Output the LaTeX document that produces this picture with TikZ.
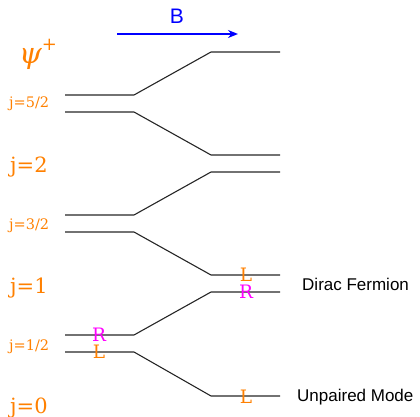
\documentclass[tikz,border=0pt]{standalone}
\usepackage{fontspec}
\setmainfont{DejaVu Serif}
\newfontfamily\lsans{Liberation Sans}
\usetikzlibrary{arrows.meta}
\definecolor{jorange}{RGB}{255,128,0}
\definecolor{jmag}{RGB}{255,0,255}
\tikzset{
  level/.style={line width=1.1pt, draw=black!85, line join=miter},
  jsmall/.style={text=jorange, anchor=base west, inner sep=0pt, font=\fontsize{14.5}{16}\selectfont},
  jbig/.style={text=jorange, anchor=base west, inner sep=0pt, font=\fontsize{21}{24}\selectfont},
  chir/.style={inner sep=0pt, font=\fontsize{18.5}{20}\selectfont},
  sidelab/.style={anchor=base west, inner sep=0pt, font=\lsans\fontsize{17}{19}\selectfont}
}
\begin{document}
\begin{tikzpicture}[x=1pt,y=-1pt]
\useasboundingbox (0,0) rectangle (420,417);
% B arrow
\coordinate (Bs) at (117,34);
\coordinate (Be) at (238,34);
\draw[blue, line width=2.6pt, -{Stealth[length=10pt,width=8pt]}] (Bs) -- (Be);
\node[text=blue, font=\lsans\fontsize{21}{24}\selectfont, inner sep=0pt] (B) at (177,16) {B};
\node[text=jorange, inner sep=0pt, anchor=base west, font=\fontsize{29}{32}\selectfont\itshape] (psi) at (19,64) {ψ\raisebox{0.45em}{\fontsize{18}{20}\selectfont\upshape +}};
% levels
\coordinate (a1) at (65,95);  \coordinate (a2) at (134,95);  \coordinate (a3) at (211,52);  \coordinate (a4) at (280,52);
\coordinate (b1) at (65,112); \coordinate (b2) at (134,112); \coordinate (b3) at (211,155); \coordinate (b4) at (280,155);
\coordinate (c1) at (65,215); \coordinate (c2) at (134,215); \coordinate (c3) at (211,172); \coordinate (c4) at (280,172);
\coordinate (d1) at (65,232); \coordinate (d2) at (134,232); \coordinate (d3) at (211,275); \coordinate (d4) at (280,275);
\coordinate (e1) at (65,335); \coordinate (e2) at (134,335); \coordinate (e3) at (211,292); \coordinate (e4) at (280,292);
\coordinate (f1) at (65,352); \coordinate (f2) at (134,352); \coordinate (f3) at (211,396); \coordinate (f4) at (280,396);
\foreach \l in {a,b,c,d,e,f}{
  \draw[level] (\l1) -- (\l2) -- (\l3) -- (\l4);
}
% j labels
\node[jsmall] (j52) at (9,108) {j=5/2};
\node[jbig]   (j2)  at (10,172) {j=2};
\node[jsmall] (j32) at (9,229) {j=3/2};
\node[jbig]   (j1)  at (10,293) {j=1};
\node[jsmall] (j12) at (9,350) {j=1/2};
\node[jbig]   (j0)  at (10,413) {j=0};
% chirality labels
\node[chir, text=jorange] (Lr1) at (246,275) {L};
\node[chir, text=jmag]    (Rr1) at (246,292) {R};
\node[chir, text=jmag]    (Rl)  at (99,335) {R};
\node[chir, text=jorange] (Ll)  at (99,352) {L};
\node[chir, text=jorange] (Lr2) at (246,397) {L};
% side labels
\node[sidelab] (dirac) at (302,290) {Dirac Fermion};
\node[sidelab] (unp)   at (297,401) {Unpaired Mode};
\end{tikzpicture}
\end{document}
